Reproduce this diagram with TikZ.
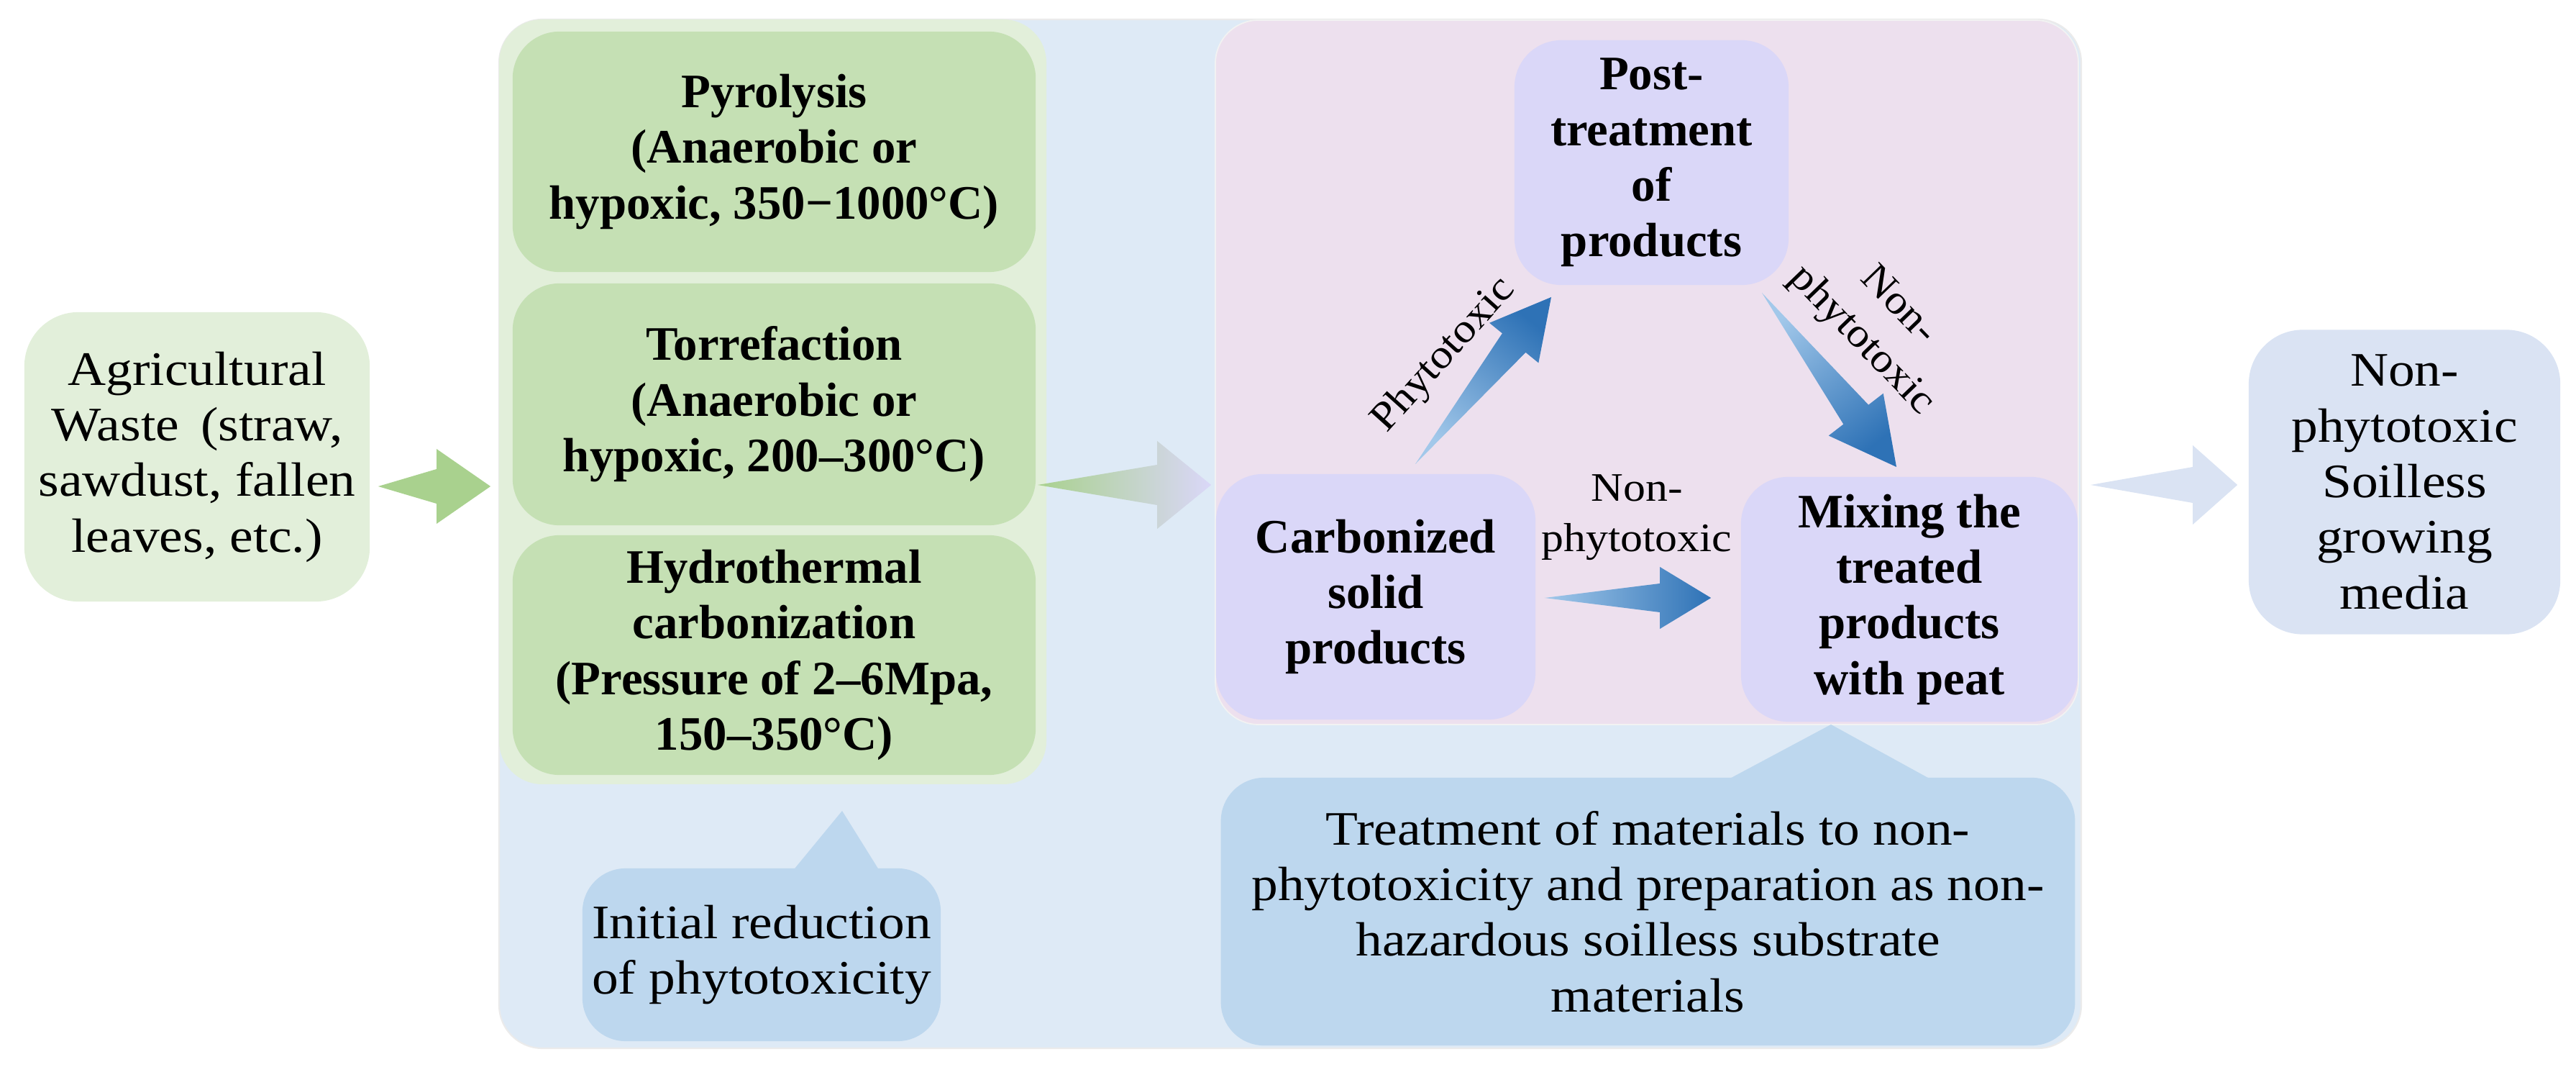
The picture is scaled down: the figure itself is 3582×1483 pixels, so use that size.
\documentclass[tikz,border=0pt]{standalone}
\usepackage{fontspec}
\setmainfont{Liberation Serif}
\newfontfamily\widefont{Liberation Serif}[FakeStretch=1.1]
\usetikzlibrary{calc}
\definecolor{agrigreen}{HTML}{E2EFDA}
\definecolor{arrgreen}{HTML}{A9D18E}
\definecolor{panelblue}{HTML}{DEEAF6}
\definecolor{panelgreen}{HTML}{E2EFDA}
\definecolor{boxgreen}{HTML}{C5E0B4}
\definecolor{panelpink}{HTML}{EDE0EE}
\definecolor{boxpurple}{HTML}{DAD7F8}
\definecolor{callblue}{HTML}{BDD7EE}
\definecolor{outblue}{HTML}{DAE3F3}
\definecolor{lightarr}{HTML}{A2C8EA}
\definecolor{darkarr}{HTML}{2E72B6}
\newcommand\blockarrow[6]{%
  \path[#6] (#1)
    -- ($(#2)!#3!(#1)!#4!90:(#1)$)
    -- ($(#2)!#3!(#1)!#5!90:(#1)$)
    -- (#2)
    -- ($(#2)!#3!(#1)!#5!-90:(#1)$)
    -- ($(#2)!#3!(#1)!#4!-90:(#1)$)
    -- cycle;}
\tikzset{
  box/.style={rounded corners=0.65cm, align=center, inner sep=0pt, font=\fontsize{19pt}{22pt}\selectfont\widefont},
  greenbox/.style={box, fill=boxgreen, minimum width=7.27cm, minimum height=3.34cm, font=\fontsize{19pt}{22pt}\selectfont\bfseries},
  purplebox/.style={box, fill=boxpurple, font=\fontsize{19pt}{22pt}\selectfont\bfseries},
  callbox/.style={box, fill=callblue, rounded corners=0.6cm},
  lbl/.style={align=center, inner sep=0pt, font=\fontsize{16pt}{20pt}\selectfont\widefont},
}
\begin{document}
\begin{tikzpicture}[x=0.01cm, y=-0.01cm]
\useasboundingbox (0,0) rectangle (3582,1483);
% background panels
\fill[panelblue, draw=black!8, line width=0.6pt, rounded corners=0.6cm] (694,27) rectangle (2894,1457);
\fill[panelgreen, rounded corners=0.6cm] (694,27) rectangle (1455,1090);
\fill[panelpink, draw=black!5, line width=0.5pt, rounded corners=0.6cm] (1690,28) rectangle (2890,1007);
% left input
\node[box, fill=agrigreen, minimum width=4.80cm, minimum height=4.02cm, rounded corners=0.75cm] (agri) at (274,635)
  {Agricultural\\Waste\hspace{0.45em}(straw,\\sawdust, fallen\\leaves, etc.)};
% process boxes
\node[greenbox] (pyro) at (1076.5,211) {Pyrolysis\\(Anaerobic or\\hypoxic, 350−1000°C)};
\node[greenbox, minimum height=3.36cm] (torr) at (1076.5,562) {Torrefaction\\(Anaerobic or\\hypoxic, 200–300°C)};
\node[greenbox, minimum height=3.33cm] (hydro) at (1076.5,910.5) {Hydrothermal\\carbonization\\(Pressure of 2–6Mpa,\\150–350°C)};
% callout 1
\fill[callblue] (1101,1212) -- (1171,1127) -- (1224,1212) -- cycle;
\node[callbox, minimum width=4.98cm, minimum height=2.40cm] (init) at (1059,1327) {Initial reduction\\of phytotoxicity};
% purple boxes
\node[purplebox, minimum width=3.81cm, minimum height=3.40cm] (post) at (2296.5,226) {Post-\\treatment\\of\\products};
\node[purplebox, minimum width=4.44cm, minimum height=3.41cm] (carb) at (1913,829.5) {Carbonized\\solid\\products};
\node[purplebox, minimum width=4.68cm, minimum height=3.40cm] (mix) at (2655,833) {Mixing the\\treated\\products\\with peat};
% callout 2
\fill[callblue] (2398,1086) -- (2546,1007) -- (2690,1086) -- cycle;
\node[callbox, minimum width=11.87cm, minimum height=3.72cm] (treat) at (2291.5,1267)
  {Treatment of materials to non-\\phytotoxicity and preparation as non-\\hazardous soilless substrate\\materials};
% output
\node[box, fill=outblue, minimum width=4.33cm, minimum height=4.23cm, rounded corners=0.75cm] (out) at (3343.5,670)
  {Non-\\phytotoxic\\Soilless\\growing\\media};
% arrow end points
\coordinate (a1t) at ($(agri.east)+(11,41)$);
\coordinate (a1h) at ($(pyro.west|-a1t)+(-30,0)$);
\coordinate (a2t) at (1443,674);
\coordinate (a2h) at ($(carb.west|-a2t)+(-6,0)$);
\coordinate (a3t) at (1968,645);
\coordinate (a3h) at (2157,413);
\coordinate (a4t) at (2450,407);
\coordinate (a4h) at (2637,649);
\coordinate (a5t) at ($(carb.east|-mix.center)+(12,-2)$);
\coordinate (a5h) at ($(mix.west|-mix.center)+(-41,-2)$);
\coordinate (a6t) at (2907,674);
\coordinate (a6h) at ($(out.west|-a6t)+(-15,0)$);
% block arrows
\blockarrow{a1t}{a1h}{0.75cm}{0.24cm}{0.52cm}{fill=arrgreen}
\blockarrow{a2t}{a2h}{0.75cm}{0.28cm}{0.61cm}{left color=arrgreen, right color=boxpurple}
\blockarrow{a3t}{a3h}{0.82cm}{0.21cm}{0.44cm}{left color=lightarr, right color=darkarr, shading angle=141}
\blockarrow{a4t}{a4h}{0.92cm}{0.22cm}{0.48cm}{left color=lightarr, right color=darkarr, shading angle=38}
\blockarrow{a5t}{a5h}{0.71cm}{0.20cm}{0.43cm}{left color=lightarr, right color=darkarr}
\blockarrow{a6t}{a6h}{0.62cm}{0.25cm}{0.55cm}{fill=outblue}
% labels
\node[lbl] (l1) at (2276,719) {Non-\\phytotoxic};
\node[lbl, rotate=48] (l2) at (2008,494) {Phytotoxic};
\node[lbl, rotate=-46] (l3) at (2613,450) {Non-\\phytotoxic};
\end{tikzpicture}
\end{document}
